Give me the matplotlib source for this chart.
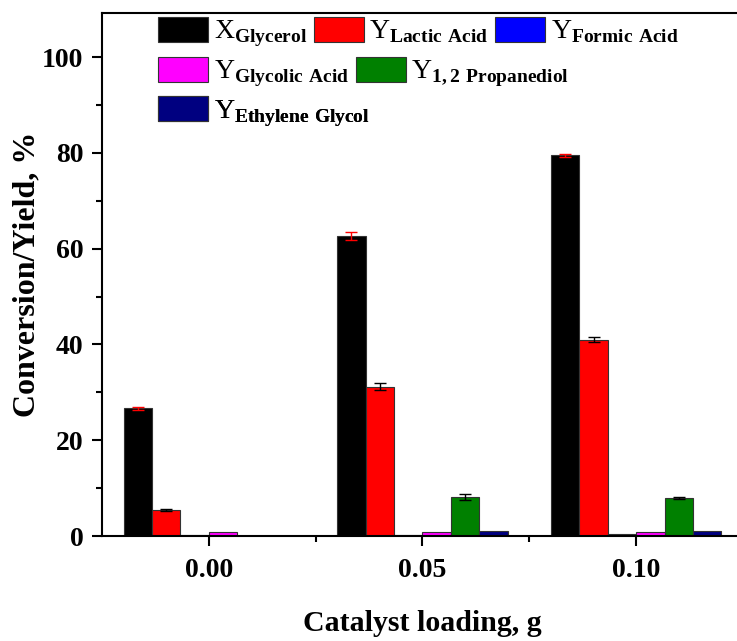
import matplotlib
matplotlib.use("Agg")
import matplotlib.pyplot as plt
import numpy as np

plt.rcParams['font.family'] = 'Liberation Serif'
plt.rcParams['mathtext.fontset'] = 'custom'
plt.rcParams['mathtext.rm'] = 'Liberation Serif:weight=normal'
plt.rcParams['mathtext.bf'] = 'Liberation Serif:weight=bold'

loadings = ['0.00', '0.05', '0.10']
glycerol = [26.7, 62.7, 79.5]
glycerol_err = [0.3, 0.8, 0.3]
lactic = [5.4, 31.2, 41.0]
lactic_err = [0.2, 0.8, 0.5]
formic = [0.3, 0.3, 0.5]
glycolic = [0.8, 0.8, 0.8]
propanediol = [0.0, 8.2, 8.0]
propanediol_err = [0.0, 0.6, 0.2]
ethylene = [0.0, 1.0, 1.0]

names = [r'$\mathrm{X}_{\mathbf{Glycerol}}$',
         r'$\mathrm{Y}_{\mathbf{Lactic\ Acid}}$',
         r'$\mathrm{Y}_{\mathbf{Formic\ Acid}}$',
         r'$\mathrm{Y}_{\mathbf{Glycolic\ Acid}}$',
         r'$\mathrm{Y}_{\mathbf{1,2\ Propanediol}}$',
         r'$\mathrm{Y}_{\mathbf{Ethylene\ Glycol}}$']
series = [glycerol, lactic, formic, glycolic, propanediol, ethylene]
errs = [glycerol_err, lactic_err, None, None, propanediol_err, None]
colors = ['#000000', '#FF0000', '#0000FF', '#FF00FF', '#008000', '#000080']
ecolors = ['#FF0000', '#000000', '#000000', '#000000', '#000000', '#000000']

fig = plt.figure(figsize=(7.37, 6.41), dpi=100)
ax = fig.add_axes([0.1384, 1 - 536 / 641, 0.8697, 523 / 641])

x = np.arange(len(loadings))
w = 0.133
handles = []
for i, (vals, e) in enumerate(zip(series, errs)):
    pos = x + (i - 2.5) * w
    b = ax.bar(pos, vals, w, color=colors[i], edgecolor='#333333', linewidth=0.8,
               yerr=e, ecolor=ecolors[i], capsize=4,
               error_kw={'elinewidth': 1, 'capthick': 1})
    handles.append(b)

ax.set_xlim(-0.5, 2.5)
ax.set_ylim(0, 109.2)
ax.set_xticks(x)
ax.set_xticklabels(loadings, fontweight='bold')
ax.set_xticks([0.5, 1.5], minor=True)
ax.set_yticks([0, 20, 40, 60, 80, 100])
ax.set_yticklabels(['0', '20', '40', '60', '80', '100'], fontweight='bold')
ax.set_yticks([10, 30, 50, 70, 90], minor=True)
ax.tick_params(axis='both', which='major', direction='out', length=7.5, width=1.5,
               labelsize=20, pad=6)
ax.tick_params(axis='both', which='minor', direction='out', length=4, width=1.5)
ax.tick_params(axis='x', which='major', pad=8)
for s in ax.spines.values():
    s.set_linewidth(1.5)
ax.spines['right'].set_visible(False)

ax.set_xlabel('Catalyst loading, g', fontsize=21.5, fontweight='bold', labelpad=20)
ax.set_ylabel('Conversion/Yield, %', fontsize=23, fontweight='bold', labelpad=0)

# legend rows laid out like the original (3, 2, 1 entries)
rows = [[0, 1, 2], [3, 4], [5]]
tops = [0.974, 0.9115, 0.850]
for r, top in zip(rows, tops):
    leg = ax.legend([handles[k] for k in r], [names[k] for k in r], ncol=len(r),
                    loc='upper left', bbox_to_anchor=(158 / 737, top),
                    bbox_transform=fig.transFigure, frameon=False, fontsize=20,
                    handlelength=1.8, handleheight=1.0, handletextpad=0.2,
                    columnspacing=0.25, borderpad=0, borderaxespad=0)
    ax.add_artist(leg)

fig.savefig('out.png', dpi=100)
